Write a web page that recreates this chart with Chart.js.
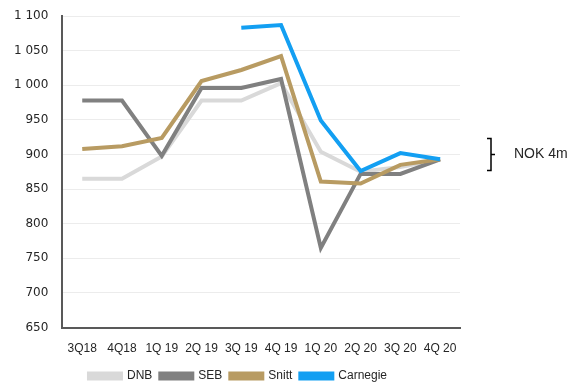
<!DOCTYPE html>
<html>
<head>
<meta charset="utf-8">
<script src="https://cdn.jsdelivr.net/npm/chart.js@4.4.1/dist/chart.umd.min.js"></script>
<style>
    html, body { margin: 0; padding: 0; background: #fff; }
    #wrap { position: relative; width: 577px; height: 385px; }
</style>
</head>
<body>
<div id="wrap"><canvas id="chart"></canvas></div>
<script>
// Quarters on the x axis
const quarters = ['3Q18', '4Q18', '1Q 19', '2Q 19', '3Q 19', '4Q 19', '1Q 20', '2Q 20', '3Q 20', '4Q 20'];

// Series values
const dnb      = [865, 865, 897, 978, 978, 1003, 904, 875, 882, 893];
const seb      = [978, 978, 898, 996, 996, 1009, 765, 872, 872, 893];
const snitt    = [908, 912, 924, 1006, 1022, 1042, 861, 858, 885, 893];
const carnegie = [null, null, null, null, 1083, 1087, 949, 876, 902, 893];

// Bracket on the right: spread of the estimates
const bracketLow = 877;
const bracketHigh = 923;
const bracketLabel = 'NOK 4m';

const TEXT = '#262626';

function spaced(v) {
    return String(v).replace(/\B(?=(\d{3})+(?!\d))/g, ' ');
}

// Draws the "}" and its label beside the last point
const bracketPlugin = {
    id: 'bracket',
    afterLayout(chart) {
        // nudge the legend a little to the right, like the original
        if (chart.legend) {
            chart.legend.left += 8;
            chart.legend.right += 8;
        }
    },
    afterDraw(chart) {
        const ctx = chart.ctx;
        const y = chart.scales.y;
        const top = y.getPixelForValue(bracketHigh);
        const bottom = y.getPixelForValue(bracketLow);
        const mid = (top + bottom) / 2;
        const x = chart.chartArea.right + 31;

        ctx.save();
        ctx.strokeStyle = '#000';
        ctx.lineWidth = 1.5;
        ctx.beginPath();
        ctx.moveTo(x - 4, top);
        ctx.lineTo(x, top);
        ctx.lineTo(x, bottom);
        ctx.lineTo(x - 4, bottom);
        ctx.moveTo(x, mid);
        ctx.lineTo(x + 4, mid);
        ctx.stroke();

        ctx.fillStyle = TEXT;
        ctx.font = '14px "Liberation Sans", Arial, sans-serif';
        ctx.textBaseline = 'middle';
        ctx.fillText(bracketLabel, x + 23, mid);
        ctx.restore();
    }
};

function line(label, data, color, order) {
    return {
        label,
        data,
        borderColor: color,
        backgroundColor: color,
        borderWidth: 4,
        pointRadius: 0,
        tension: 0,
        spanGaps: false,
        order
    };
}

new Chart(document.getElementById('chart'), {
    type: 'line',
    data: {
        labels: quarters,
        datasets: [
            line('DNB', dnb, '#d9d9d9', 4),
            line('SEB', seb, '#808080', 3),
            line('Snitt', snitt, '#b89b62', 2),
            line('Carnegie', carnegie, '#139ff2', 1)
        ]
    },
    options: {
        responsive: true,
        maintainAspectRatio: false,
        animation: false,
        layout: {
            padding: { left: 0, right: 117, top: 16, bottom: -7 }
        },
        plugins: {
            legend: {
                position: 'bottom',
                labels: {
                    color: TEXT,
                    boxWidth: 32,
                    boxHeight: 5,
                    padding: 8,
                    sort: (a, b) => a.datasetIndex - b.datasetIndex,
                    font: { family: '"Liberation Sans", Arial, sans-serif', size: 12 }
                }
            },
            tooltip: { enabled: false }
        },
        scales: {
            x: {
                offset: true,
                grid: { display: false },
                border: { color: '#595959', width: 2 },
                ticks: {
                    color: TEXT,
                    padding: 6,
                    maxRotation: 0,
                    autoSkip: false,
                    font: { family: '"Liberation Sans", Arial, sans-serif', size: 12 }
                }
            },
            y: {
                min: 650,
                max: 1100,
                border: { color: '#595959', width: 2 },
                grid: {
                    color: '#ececec',
                    drawTicks: false
                },
                afterFit: s => { s.paddingTop = 0; },
                ticks: {
                    stepSize: 50,
                    color: TEXT,
                    padding: 14,
                    font: { family: '"DejaVu Sans", Verdana, sans-serif', size: 12 },
                    callback: v => spaced(v)
                }
            }
        }
    },
    plugins: [bracketPlugin]
});
</script>
</body>
</html>
